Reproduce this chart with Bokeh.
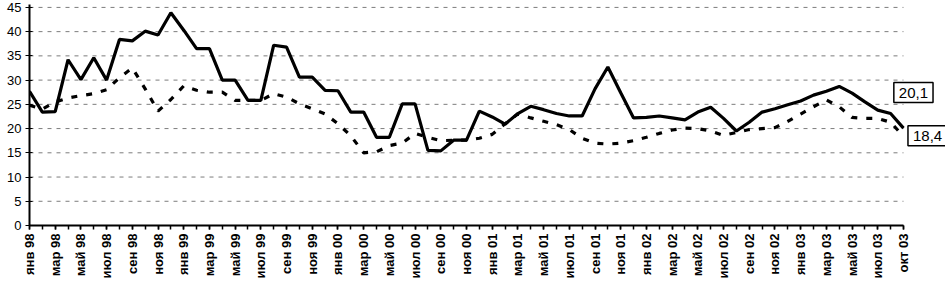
import math
from bokeh.plotting import figure
from bokeh.models import Range1d, FixedTicker, Label
from bokeh.embed import file_html
from bokeh.resources import INLINE

# ---- data ----
tick_labels = ["янв 98", "мар 98", "май 98", "июл 98", "сен 98", "ноя 98",
               "янв 99", "мар 99", "май 99", "июл 99", "сен 99", "ноя 99",
               "янв 00", "мар 00", "май 00", "июл 00", "сен 00", "ноя 00",
               "янв 01", "мар 01", "май 01", "июл 01", "сен 01", "ноя 01",
               "янв 02", "мар 02", "май 02", "июл 02", "сен 02", "ноя 02",
               "янв 03", "мар 03", "май 03", "июл 03", "окт 03"]

series_solid = [27.7, 23.4, 23.5, 34.2, 30.1, 34.6, 30.0, 38.4, 38.1, 40.1,
                39.3, 43.9, 40.3, 36.5, 36.5, 30.0, 30.0, 25.8, 25.8, 37.2,
                36.8, 30.6, 30.6, 27.9, 27.8, 23.4, 23.4, 18.2, 18.2, 25.1,
                25.1, 15.5, 15.4, 17.6, 17.6, 23.6, 22.4, 20.9, 23.1, 24.6,
                23.9, 23.1, 22.6, 22.6, 28.2, 32.7, 27.4, 22.2, 22.3, 22.6,
                22.2, 21.8, 23.4, 24.4, 22.1, 19.5, 21.3, 23.4, 24.1, 24.9,
                25.7, 26.9, 27.7, 28.7, 27.3, 25.5, 23.8, 23.1, 20.1]

series_dashed = [24.8, 24.0, 25.5, 26.3, 26.8, 27.2, 28.0, 30.5, 32.5, 28.2,
                 23.6, 26.0, 28.8, 27.9, 27.5, 27.5, 25.8, 25.8, 25.8, 27.2,
                 26.5, 25.1, 24.1, 23.0, 21.0, 18.5, 15.0, 15.2, 16.5, 17.0,
                 19.0, 18.2, 17.5, 17.6, 17.6, 18.0, 18.8, 21.0, 23.0, 22.2,
                 21.5, 20.8, 19.8, 18.0, 17.0, 16.8, 17.0, 17.5, 18.2, 19.0,
                 19.7, 20.1, 20.0, 19.5, 18.6, 19.2, 19.8, 20.0, 20.2, 21.5,
                 23.0, 24.5, 25.9, 24.5, 22.3, 22.1, 22.1, 21.3, 18.4]

y_ticks = [0, 5, 10, 15, 20, 25, 30, 35, 40, 45]
end_label_solid = "20,1"
end_label_dashed = "18,4"

n = len(series_solid)
xs = list(range(n))
label_positions = list(range(0, n, 2))
last = n - 1

FONT = "Liberation Sans"

# x range extends past the last month so that the end labels have room
p = figure(width=945, height=288, output_backend="svg", toolbar_location=None,
           x_range=Range1d(0, 71.27), y_range=Range1d(0, 45.6))
p.min_border_left = 29
p.min_border_right = 0
p.min_border_top = 4
p.min_border_bottom = 63
p.outline_line_color = None
p.background_fill_color = "white"

# grid: drawn only over the months span
p.xgrid.visible = False
p.ygrid.visible = False
grid_vals = y_ticks[1:]
p.segment(x0=[0] * len(grid_vals), x1=[last] * len(grid_vals), y0=grid_vals, y1=grid_vals,
          line_color="#444444", line_dash="4 5", line_width=1, line_alpha=0.7)

# y axis
p.yaxis.ticker = FixedTicker(ticks=y_ticks)
p.yaxis.axis_line_color = "black"
p.yaxis.axis_line_width = 2
p.yaxis.major_tick_in = 3
p.yaxis.major_tick_out = 4
p.yaxis.minor_tick_line_color = None
p.yaxis.major_label_standoff = 4
p.yaxis.major_label_text_font = FONT
p.yaxis.major_label_text_font_size = "13px"
p.yaxis.major_label_text_color = "black"

# x axis
p.xaxis.bounds = (0, last)
p.xaxis.ticker = FixedTicker(ticks=label_positions, minor_ticks=xs)
p.xaxis.major_label_overrides = {pos: lab for pos, lab in zip(label_positions, tick_labels)}
p.xaxis.major_label_orientation = math.pi / 2
p.xaxis.axis_line_color = "black"
p.xaxis.axis_line_width = 2
p.xaxis.major_tick_in = 0
p.xaxis.major_tick_out = 4
p.xaxis.minor_tick_in = 0
p.xaxis.minor_tick_out = 4
p.xaxis.major_tick_line_width = 1.5
p.xaxis.minor_tick_line_width = 1.5
p.xaxis.minor_tick_line_color = "black"
p.xaxis.major_label_standoff = 4
p.xaxis.major_label_text_font = FONT
p.xaxis.major_label_text_font_size = "13px"
p.xaxis.major_label_text_font_style = "bold"
p.xaxis.major_label_text_color = "black"

# series
p.line(xs, series_dashed, line_color="black", line_width=3.2, line_dash="6 9")
p.line(xs, series_solid, line_color="black", line_width=3.2)

# end labels
lab1 = Label(x=67.25, y=29.5, text=end_label_solid, text_font=FONT, text_font_size="15px",
             text_align="left", text_baseline="top", text_color="black",
             border_line_color="black", border_line_width=1.5,
             background_fill_color="white", padding=5)
lab2 = Label(x=68.35, y=20.6, text=end_label_dashed, text_font=FONT, text_font_size="15px",
             text_align="left", text_baseline="top", text_color="black",
             border_line_color="black", border_line_width=1.5,
             background_fill_color="white", padding=5)
p.add_layout(lab1)
p.add_layout(lab2)

open("out.html", "w").write(file_html(p, INLINE))
